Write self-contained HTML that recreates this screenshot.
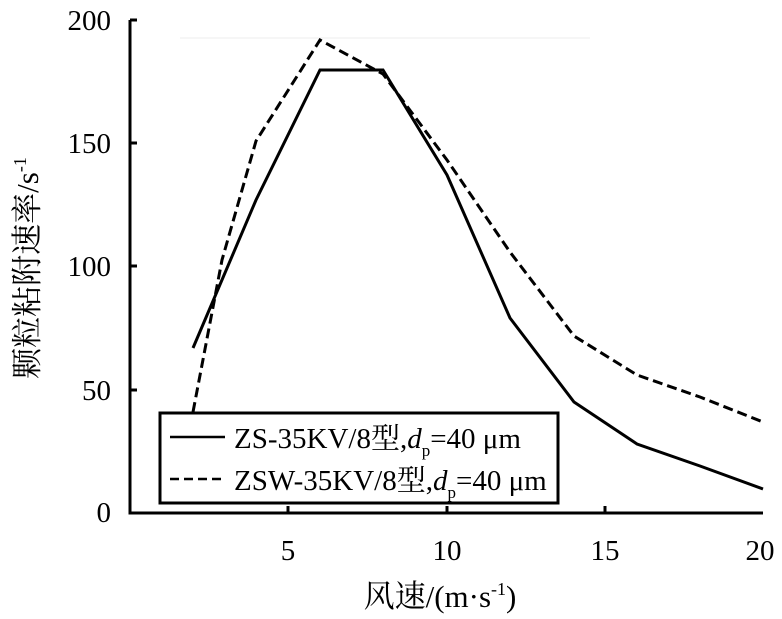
<!DOCTYPE html>
<html><head><meta charset="utf-8"><style>
body{margin:0;background:#fff;}
svg{display:block;font-family:"Liberation Serif","Noto Serif CJK SC",serif;}
</style></head><body>
<svg width="782" height="619" viewBox="0 0 782 619" xmlns="http://www.w3.org/2000/svg">
<line x1="180" y1="38" x2="590" y2="38" stroke="#eee" stroke-width="1"/>
<g stroke="#000" stroke-width="3" fill="none">
<polyline points="130,20 130,513 763,513"/>
<line x1="130" y1="20" x2="137" y2="20"/>
<line x1="130" y1="143" x2="137" y2="143"/>
<line x1="130" y1="266" x2="137" y2="266"/>
<line x1="130" y1="390" x2="137" y2="390"/>
<line x1="288" y1="513" x2="288" y2="506"/>
<line x1="447" y1="513" x2="447" y2="506"/>
<line x1="605" y1="513" x2="605" y2="506"/>
</g>
<g font-size="29" text-anchor="end">
<text x="111" y="30">200</text>
<text x="111" y="153">150</text>
<text x="111" y="276">100</text>
<text x="111" y="400">50</text>
<text x="111" y="522">0</text>
</g>
<g font-size="29" text-anchor="middle">
<text x="288" y="560">5</text>
<text x="447" y="560">10</text>
<text x="605" y="560">15</text>
<text x="760" y="560">20</text>
</g>
<text x="440" y="607" font-size="31" text-anchor="middle">风速/(m·s<tspan font-size="18" dy="-12">-1</tspan><tspan dy="12">)</tspan></text>
<text transform="translate(38,268) rotate(-90)" font-size="31" text-anchor="middle">颗粒粘附速率/s<tspan font-size="18" dy="-12">-1</tspan></text>
<polyline fill="none" stroke="#000" stroke-width="3" points="193,348 256,200 320,70 383,70 447,175 510,318 574,402 637,444 700,466 763,489"/>
<polyline fill="none" stroke="#000" stroke-width="3" stroke-dasharray="10,5" points="193,412 222,260 256,141 320,40 383,74 447,160 510,252 574,336 637,375 700,397 763,422"/>
<rect x="160" y="413" width="398" height="90" fill="#fff" stroke="#000" stroke-width="3"/>
<line x1="170" y1="437" x2="225" y2="437" stroke="#000" stroke-width="2.5"/>
<line x1="170" y1="479" x2="225" y2="479" stroke="#000" stroke-width="2.5" stroke-dasharray="9,5"/>
<g font-size="29">
<text x="234" y="448">ZS-35KV/8型,<tspan font-style="italic">d</tspan><tspan font-size="17" dy="8">p</tspan><tspan dy="-8">=40 μm</tspan></text>
<text x="234" y="490">ZSW-35KV/8型,<tspan font-style="italic">d</tspan><tspan font-size="17" dy="8">p</tspan><tspan dy="-8">=40 μm</tspan></text>
</g>
</svg>
</body></html>
